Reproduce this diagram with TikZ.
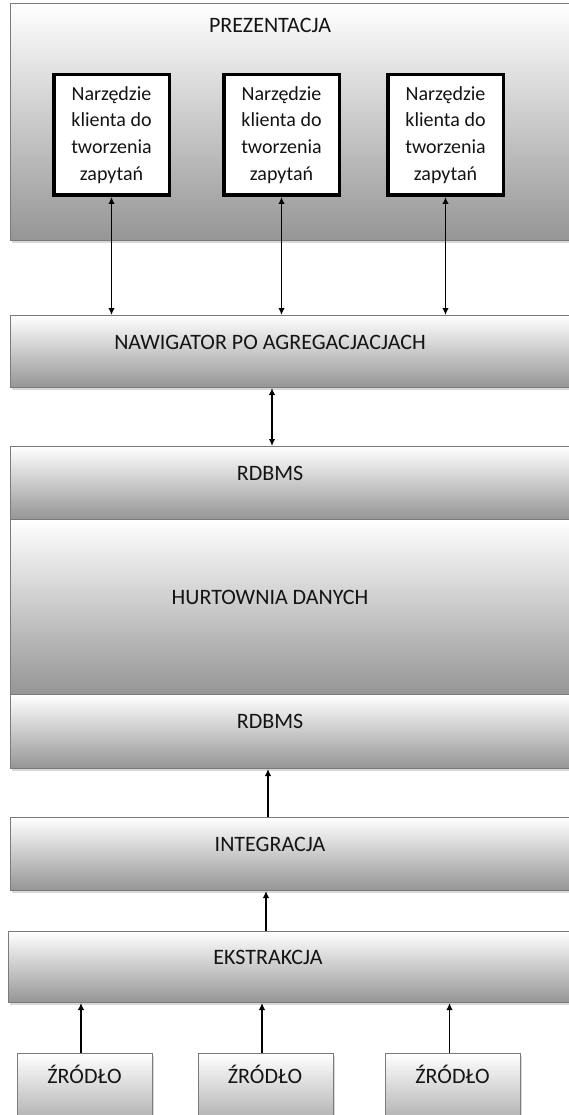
\documentclass[tikz,border=0pt]{standalone}
\usepackage{fontspec}
\setmainfont{Carlito}
\usetikzlibrary{arrows.meta,shadows}
\definecolor{edge}{HTML}{7A7A7A}
\definecolor{shadebot}{HTML}{959595}
\definecolor{txt}{HTML}{141414}
\begin{document}
\begin{tikzpicture}[x=1pt,y=-1pt,
  layer/.style={draw=edge, line width=1pt, top color=white, bottom color=shadebot,
    anchor=north west, inner sep=0pt, minimum width=620pt,
    drop shadow={shadow xshift=1pt, shadow yshift=-2pt, opacity=0.3}},
  srcbox/.style={layer, minimum width=135pt, minimum height=90pt},
  lbl/.style={font=\fontsize{22}{26}\selectfont, text=txt, anchor=base, inner sep=0pt},
  query/.style={draw=black, line width=3.5pt, fill=white, minimum width=115.5pt,
    minimum height=120.5pt, align=center, inner sep=0pt, text=txt,
    font=\fontsize{20}{26.7}\selectfont},
  link/.style={line width=1.4pt, black},
  tip/.tip={Latex[length=7pt,width=6.5pt]}
]
\useasboundingbox (0,0) rectangle (569,1115);
\clip (0,0) rectangle (569,1115);
\fill[white] (0,0) rectangle (569,1115);

% presentation layer with the three query tools
\node[layer, minimum height=237pt] (pres) at (10,3) {};
\node[lbl] (prest) at (270,33) {PREZENTACJA};
\node[query] (q1) at (111.5,135) {Narzędzie\\klienta do\\tworzenia\\zapytań};
\node[query] (q2) at (281.5,135) {Narzędzie\\klienta do\\tworzenia\\zapytań};
\node[query] (q3) at (445.5,135) {Narzędzie\\klienta do\\tworzenia\\zapytań};

% aggregate navigator
\node[layer, minimum height=72pt] (nav) at (10,315) {};
\node[lbl] (navt) at (270,349) {NAWIGATOR PO AGREGACJACJACH};

% warehouse stack
\node[layer, minimum height=73pt] (rd1) at (10,446) {};
\node[lbl] (rd1t) at (270,480) {RDBMS};
\node[layer, minimum height=175pt] (dw) at (10,519) {};
\node[lbl] (dwt) at (270,604) {HURTOWNIA DANYCH};
\node[layer, minimum height=74pt] (rd2) at (10,694) {};
\node[lbl] (rd2t) at (270,728) {RDBMS};

% integration and extraction
\node[layer, minimum height=73pt] (integ) at (10,817) {};
\node[lbl] (integt) at (270,851) {INTEGRACJA};
\node[layer, minimum height=71pt] (ext) at (8,931) {};
\node[lbl] (extt) at (268,964) {EKSTRAKCJA};

% sources
\node[srcbox] (s1) at (17,1053) {};
\node[lbl] (s1t) at (84.5,1083) {ŹRÓDŁO};
\node[srcbox] (s2) at (198,1053) {};
\node[lbl] (s2t) at (265,1083) {ŹRÓDŁO};
\node[srcbox] (s3) at (385,1053) {};
\node[lbl] (s3t) at (452.5,1083) {ŹRÓDŁO};

% connectors
\draw[link, tip-tip] (q1.south) -- (q1.south |- nav.north);
\draw[link, tip-tip] (q2.south) -- (q2.south |- nav.north);
\draw[link, tip-tip] (q3.south) -- (q3.south |- nav.north);

\coordinate (a1) at (272,0);
\draw[link, tip-tip] (a1 |- nav.south) -- (a1 |- rd1.north);

\coordinate (a2) at (268,0);
\draw[link, -tip] (a2 |- integ.north) -- (a2 |- rd2.south);
\coordinate (a3) at (266,0);
\draw[link, -tip] (a3 |- ext.north) -- (a3 |- integ.south);

\draw[link, -tip] ([xshift=-4pt]s1.north) -- ([xshift=-4pt]s1.north |- ext.south);
\draw[link, -tip] ([xshift=-4pt]s2.north) -- ([xshift=-4pt]s2.north |- ext.south);
\draw[link, -tip] ([xshift=-3.5pt]s3.north) -- ([xshift=-3.5pt]s3.north |- ext.south);
\end{tikzpicture}
\end{document}
